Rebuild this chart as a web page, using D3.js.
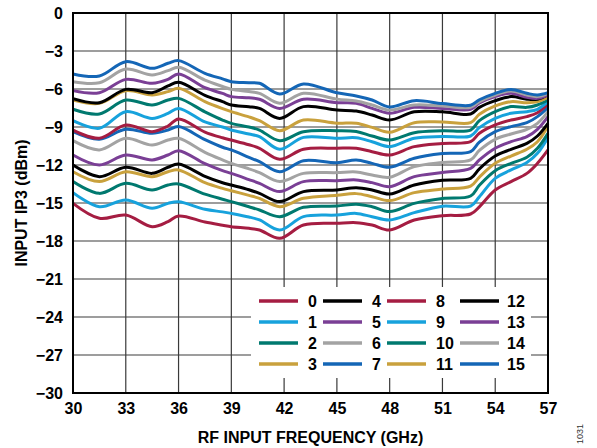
<!DOCTYPE html>
<html>
<head>
<meta charset="utf-8">
<script src="https://cdn.jsdelivr.net/npm/d3@7"></script>
<style>
  body { margin: 0; background: #fff; }
  text { font-family: "Liberation Sans", Arial, sans-serif; }
</style>
</head>
<body>
<div id="chart"></div>
<script>
// RF input frequency (GHz) sample points
const freqs = [30, 31.5, 33, 34.5, 35.4, 36, 37.5, 38.5, 39, 40, 40.6, 41.75, 43.1, 45, 46.1, 47, 48, 49.4, 51, 52.6, 53.1, 54, 54.9, 55.8, 56.4, 57];

// input IP3 (dBm), one array per state
const s0  = [-15.03, -16.21, -15.95, -16.87, -16.47, -16.03, -16.5, -16.75, -16.87, -17.0, -17.13, -17.79, -16.74, -16.6, -16.55, -16.74, -17.13, -16.34, -16.0, -15.87, -15.3, -13.97, -13.31, -12.66, -11.87, -10.81];
const s1  = [-14.18, -15.3, -14.76, -15.42, -15.03, -14.9, -15.5, -15.7, -15.82, -16.1, -16.34, -17.13, -16.08, -15.95, -15.82, -16.08, -16.34, -15.76, -15.25, -15.24, -14.5, -13.05, -12.39, -11.81, -11.08, -9.82];
const s2  = [-13.31, -14.24, -13.45, -13.97, -13.58, -13.5, -14.3, -14.7, -14.89, -15.3, -15.55, -16.08, -15.34, -15.24, -15.1, -15.29, -15.68, -15.03, -14.65, -14.45, -13.6, -12.45, -11.87, -11.39, -10.68, -9.5];
const s3  = [-12.53, -13.31, -12.53, -12.92, -12.53, -12.39, -13.4, -13.85, -14.03, -14.4, -14.63, -15.29, -14.63, -14.39, -14.26, -14.5, -14.81, -14.18, -13.9, -13.66, -12.95, -11.87, -11.29, -10.76, -10.16, -8.92];
const s4  = [-12.0, -12.92, -12.18, -12.66, -12.18, -11.92, -12.9, -13.4, -13.58, -13.95, -14.24, -14.89, -14.1, -13.97, -13.8, -13.97, -14.29, -13.58, -13.2, -13.05, -12.3, -11.29, -10.76, -10.29, -9.71, -8.71];
const s5  = [-11.21, -12.0, -11.21, -11.6, -11.21, -10.87, -11.9, -12.45, -12.66, -13.15, -13.45, -14.1, -13.31, -13.24, -13.18, -13.39, -13.71, -12.92, -12.6, -12.26, -11.6, -10.68, -10.16, -9.76, -9.18, -8.18];
const s6  = [-10.08, -10.81, -9.89, -10.42, -10.03, -9.89, -11.0, -11.6, -11.87, -12.3, -12.6, -13.31, -12.66, -12.6, -12.55, -12.79, -12.97, -12.13, -11.8, -11.6, -10.85, -9.97, -9.55, -9.18, -8.71, -7.79];
const s7  = [-9.37, -9.97, -9.18, -9.5, -9.24, -8.97, -10.0, -10.6, -10.81, -11.4, -11.74, -12.53, -11.66, -11.82, -11.6, -11.87, -12.18, -11.47, -11.1, -10.95, -10.2, -9.37, -8.97, -8.66, -8.18, -7.45];
const s8  = [-9.24, -9.89, -8.84, -9.37, -8.92, -8.37, -9.4, -9.85, -10.03, -10.4, -10.68, -11.55, -10.76, -10.68, -10.68, -10.95, -11.21, -10.55, -10.3, -10.16, -9.5, -8.84, -8.45, -8.18, -7.87, -7.18];
const s9  = [-8.5, -9.1, -7.79, -8.32, -7.92, -7.53, -8.6, -9.0, -9.24, -9.55, -9.76, -10.76, -9.82, -9.89, -9.85, -10.16, -10.55, -9.89, -9.75, -9.71, -9.05, -8.32, -7.92, -7.79, -7.6, -7.0];
const s10 = [-7.6, -7.97, -6.87, -7.26, -6.87, -6.74, -7.8, -8.45, -8.71, -9.0, -9.24, -10.08, -9.37, -9.29, -9.35, -9.71, -10.03, -9.45, -9.3, -9.24, -8.5, -7.79, -7.39, -7.45, -7.26, -6.87];
const s11 = [-6.87, -7.13, -6.13, -6.47, -6.21, -5.95, -7.0, -7.55, -7.79, -8.2, -8.5, -9.29, -8.45, -8.7, -8.7, -9.03, -9.42, -8.66, -8.6, -8.66, -8.0, -7.34, -7.0, -7.08, -7.0, -6.65];
const s12 = [-6.76, -7.08, -6.03, -6.29, -5.76, -5.47, -6.5, -7.0, -7.26, -7.4, -7.53, -8.32, -7.39, -7.66, -7.74, -8.05, -8.45, -7.8, -7.8, -7.97, -7.45, -6.92, -6.6, -6.81, -6.81, -6.45];
const s13 = [-6.13, -6.29, -5.24, -5.55, -5.24, -4.81, -5.9, -6.35, -6.6, -6.7, -6.81, -7.53, -6.81, -7.08, -7.13, -7.53, -7.92, -7.45, -7.53, -7.6, -7.1, -6.6, -6.34, -6.66, -6.74, -6.47];
const s14 = [-5.42, -5.5, -4.42, -4.89, -4.55, -4.29, -5.3, -5.8, -6.03, -6.2, -6.34, -7.13, -6.34, -6.8, -6.95, -7.26, -7.66, -7.26, -7.34, -7.45, -7.0, -6.47, -6.16, -6.47, -6.6, -6.34];
const s15 = [-4.81, -4.97, -3.84, -4.37, -3.97, -3.76, -4.76, -5.2, -5.42, -5.5, -5.55, -6.39, -5.6, -6.3, -6.55, -6.87, -7.42, -6.92, -7.15, -7.28, -6.85, -6.34, -6.03, -6.34, -6.47, -6.29];

const stateNames = ["0", "1", "2", "3", "4", "5", "6", "7", "8", "9", "10", "11", "12", "13", "14", "15"];
const xTicks = [30, 33, 36, 39, 42, 45, 48, 51, 54, 57];
const yTicks = [0, -3, -6, -9, -12, -15, -18, -21, -24, -27, -30];

const allSeries = [s0, s1, s2, s3, s4, s5, s6, s7, s8, s9, s10, s11, s12, s13, s14, s15];
const palette = ["#a51d42", "#17a2dc", "#00796f", "#c9a13d", "#000000", "#7a3f95", "#a3a3a3", "#1466b6"];

const width = 597;
const height = 448;
const margin = {top: 13, right: 49, bottom: 55, left: 73};

const x = d3.scaleLinear().domain([30, 57]).range([margin.left, width - margin.right]);
const y = d3.scaleLinear().domain([-30, 0]).range([height - margin.bottom, margin.top]);

const minus = d => d < 0 ? "\u2212" + Math.abs(d) : String(d);

const svg = d3.select("#chart")
  .append("svg")
    .attr("width", width)
    .attr("height", height);

// grid
svg.append("g")
  .selectAll("line")
  .data(yTicks.slice(1, -1))
  .join("line")
    .attr("x1", margin.left)
    .attr("x2", width - margin.right)
    .attr("y1", d => y(d))
    .attr("y2", d => y(d))
    .attr("stroke", "#7d7d7d")
    .attr("stroke-width", 1.5);

svg.append("g")
  .selectAll("line")
  .data(xTicks.slice(1, -1))
  .join("line")
    .attr("x1", d => x(d))
    .attr("x2", d => x(d))
    .attr("y1", margin.top)
    .attr("y2", height - margin.bottom)
    .attr("stroke", "#3a3a3a")
    .attr("stroke-width", 1.2);

// curves
const line = d3.line()
  .x((d, i) => x(freqs[i]))
  .y(d => y(d))
  .curve(d3.curveCatmullRom.alpha(0.5));

svg.append("g")
  .attr("fill", "none")
  .attr("stroke-width", 3)
  .attr("stroke-linejoin", "round")
  .selectAll("path")
  .data(allSeries)
  .join("path")
    .attr("stroke", (d, i) => palette[i % 8])
    .attr("d", line);

// legend box
const lg = {x: 251, y: 287, w: 280, h: 91};
svg.append("rect")
  .attr("x", lg.x).attr("y", lg.y)
  .attr("width", lg.w).attr("height", lg.h)
  .attr("fill", "#fff");

const colX = [259, 323, 387, 460];
const legend = svg.append("g")
  .selectAll("g")
  .data(stateNames)
  .join("g")
    .attr("transform", (d, i) => `translate(${colX[Math.floor(i / 4)]},${301 + (i % 4) * 21})`);

legend.append("line")
  .attr("x1", 0).attr("x2", 39)
  .attr("stroke", (d, i) => palette[i % 8])
  .attr("stroke-width", 3.5);

legend.append("text")
  .attr("x", (d, i) => i < 12 ? 49 : 47)
  .attr("y", 6)
  .attr("font-size", 16)
  .attr("font-weight", "bold")
  .text(d => d);

// frame
svg.append("rect")
  .attr("x", margin.left).attr("y", margin.top)
  .attr("width", width - margin.left - margin.right)
  .attr("height", height - margin.top - margin.bottom)
  .attr("fill", "none")
  .attr("stroke", "#000")
  .attr("stroke-width", 2);

// axes labels
svg.append("g")
  .attr("transform", `translate(0,${height - margin.bottom})`)
  .call(d3.axisBottom(x).tickValues(xTicks).tickSize(0).tickPadding(10).tickFormat(minus))
  .call(g => g.select(".domain").remove())
  .call(g => g.selectAll("text")
    .attr("font-family", "Liberation Sans, Arial, sans-serif")
    .attr("font-size", 16).attr("font-weight", "bold").attr("fill", "#000"));

svg.append("g")
  .attr("transform", `translate(${margin.left},0)`)
  .call(d3.axisLeft(y).tickValues(yTicks).tickSize(0).tickPadding(10).tickFormat(minus))
  .call(g => g.select(".domain").remove())
  .call(g => g.selectAll("text")
    .attr("font-family", "Liberation Sans, Arial, sans-serif")
    .attr("font-size", 16).attr("font-weight", "bold").attr("fill", "#000"));

svg.append("text")
  .attr("x", (margin.left + width - margin.right) / 2)
  .attr("y", 443)
  .attr("text-anchor", "middle")
  .attr("font-size", 16)
  .attr("font-weight", "bold")
  .text("RF INPUT FREQUENCY (GHz)");

svg.append("text")
  .attr("transform", `translate(27,${(margin.top + height - margin.bottom) / 2}) rotate(-90)`)
  .attr("text-anchor", "middle")
  .attr("font-size", 16)
  .attr("font-weight", "bold")
  .text("INPUT IP3 (dBm)");

svg.append("text")
  .attr("transform", "translate(583,434) rotate(-90)")
  .attr("text-anchor", "middle")
  .attr("font-size", 9)
  .attr("fill", "#333")
  .text("1031");
</script>
</body>
</html>
